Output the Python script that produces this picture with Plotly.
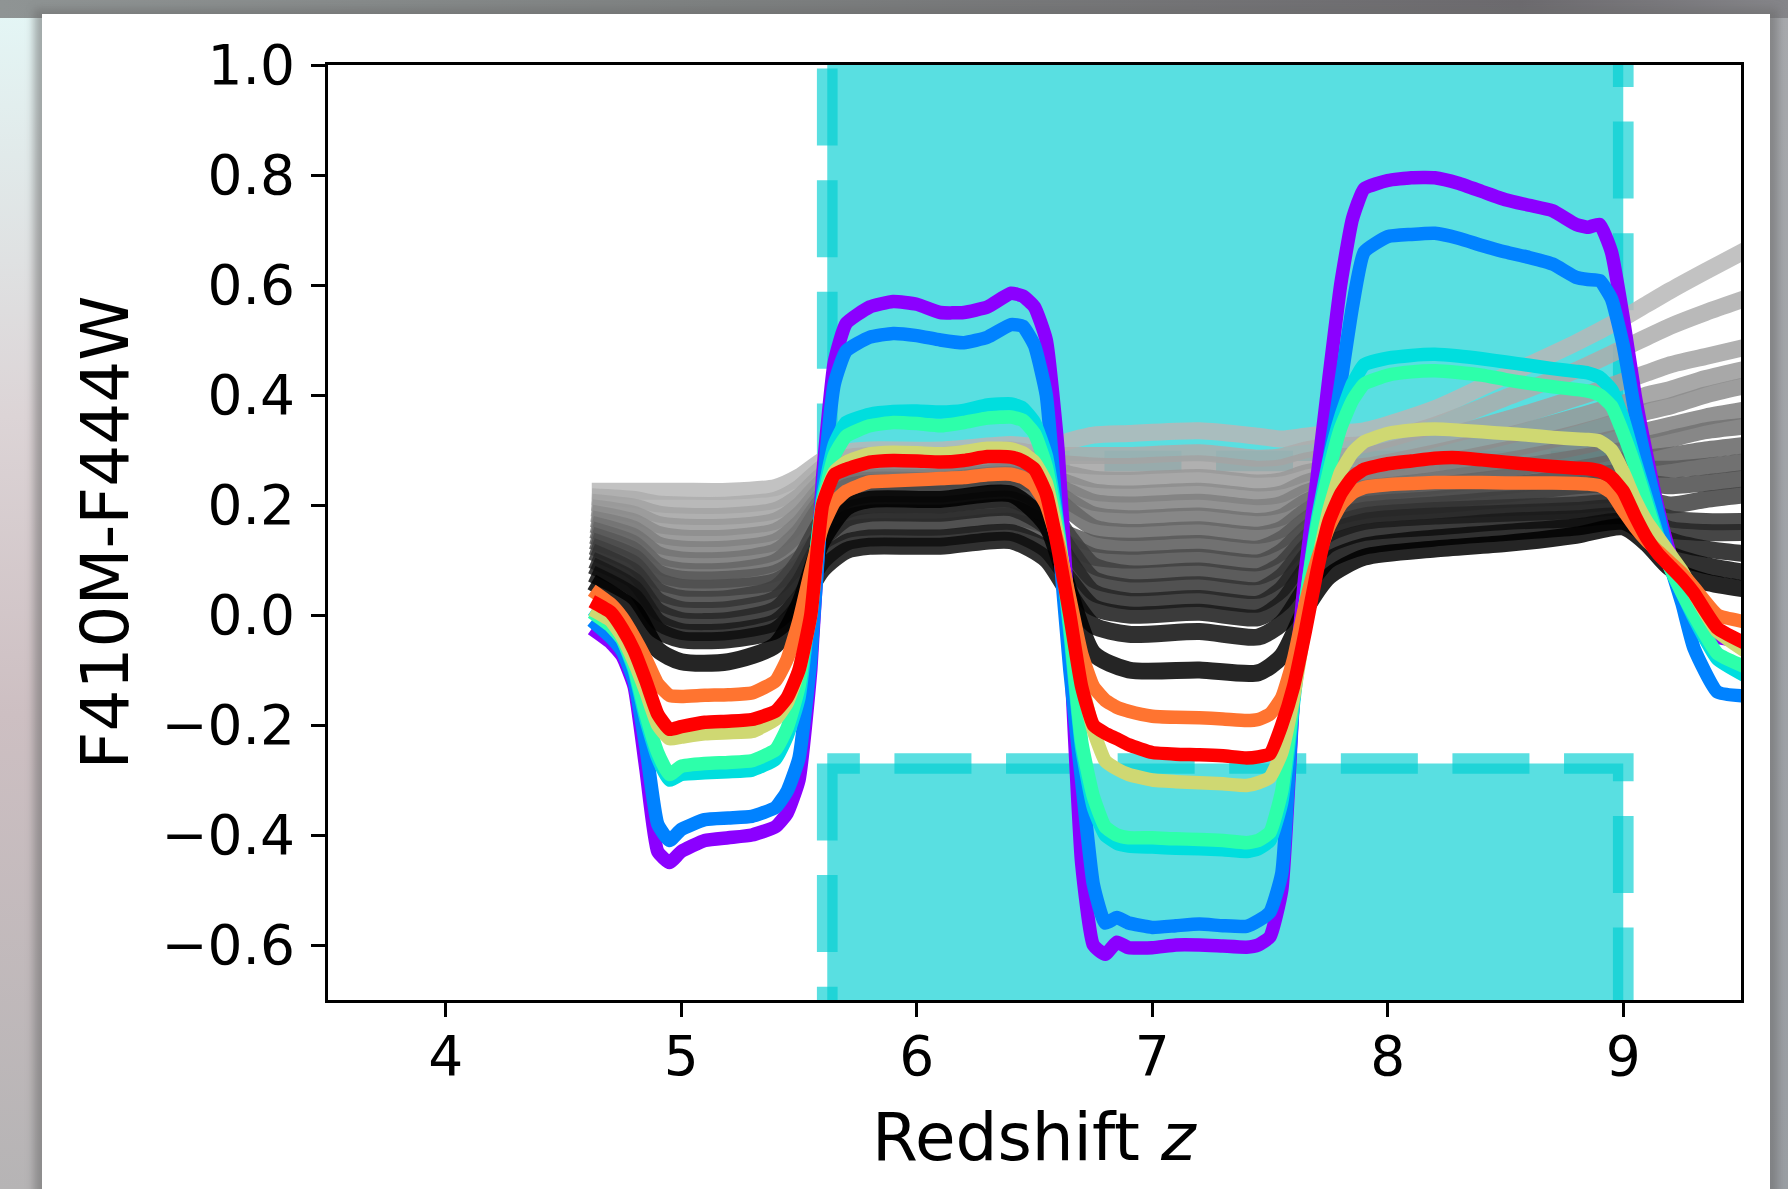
import base64
import plotly.graph_objects as go

# ---------------- data ----------------
# redshift grid for the coloured tracks
Z = [4.62, 4.7, 4.75, 4.8, 4.85, 4.9, 4.95, 5.0, 5.1, 5.2, 5.3, 5.4, 5.45, 5.5, 5.55, 5.6, 5.65, 5.7,
     5.8, 5.9, 6.0, 6.1, 6.2, 6.3, 6.4, 6.45, 6.5, 6.55, 6.6, 6.65, 6.7, 6.75, 6.8, 6.85, 6.9, 7.0,
     7.1, 7.2, 7.3, 7.4, 7.45, 7.5, 7.55, 7.6, 7.65, 7.7, 7.75, 7.8, 7.85, 7.9, 8.0, 8.1, 8.2, 8.3,
     8.4, 8.5, 8.6, 8.7, 8.8, 8.85, 8.9, 8.95, 9.0, 9.05, 9.1, 9.15, 9.2, 9.25, 9.3, 9.4, 9.55]

PURPLE = [-0.025, -0.05, -0.075, -0.13, -0.28, -0.43, -0.45, -0.43, -0.41, -0.405, -0.40, -0.385, -0.36, -0.30,
          -0.10, 0.25, 0.46, 0.53, 0.56, 0.57, 0.565, 0.55, 0.55, 0.56, 0.585, 0.58, 0.56, 0.50, 0.30, -0.05,
          -0.45, -0.60, -0.617, -0.595, -0.605, -0.605, -0.60, -0.60, -0.602, -0.604, -0.60, -0.585, -0.50,
          -0.15, 0.08, 0.25, 0.43, 0.60, 0.72, 0.775, 0.79, 0.795, 0.795, 0.785, 0.77, 0.755, 0.745, 0.735,
          0.71, 0.705, 0.71, 0.66, 0.54, 0.40, 0.29, 0.19, 0.11, 0.05, 0.0, -0.04, -0.05]
BLUE = [-0.01, -0.04, -0.066, -0.12, -0.24, -0.38, -0.41, -0.39, -0.372, -0.369, -0.366, -0.35, -0.32, -0.26,
        -0.08, 0.22, 0.42, 0.48, 0.505, 0.512, 0.508, 0.50, 0.495, 0.505, 0.528, 0.525, 0.49, 0.40, 0.15, -0.10,
        -0.30, -0.49, -0.56, -0.55, -0.56, -0.568, -0.565, -0.562, -0.565, -0.566, -0.556, -0.54, -0.47,
        -0.15, 0.02, 0.14, 0.28, 0.42, 0.56, 0.66, 0.688, 0.692, 0.694, 0.685, 0.672, 0.66, 0.65, 0.638,
        0.614, 0.61, 0.608, 0.575, 0.49, 0.37, 0.27, 0.18, 0.09, 0.02, -0.06, -0.14, -0.148]
CYAN = [0.01, -0.015, -0.045, -0.10, -0.19, -0.26, -0.30, -0.29, -0.287, -0.285, -0.282, -0.262, -0.22, -0.15,
        0.03, 0.21, 0.31, 0.35, 0.365, 0.37, 0.371, 0.369, 0.372, 0.382, 0.384, 0.376, 0.35, 0.29, 0.16, -0.03,
        -0.24, -0.35, -0.40, -0.415, -0.42, -0.422, -0.424, -0.425, -0.427, -0.43, -0.425, -0.41, -0.34,
        -0.16, 0.02, 0.17, 0.28, 0.36, 0.42, 0.455, 0.467, 0.472, 0.474, 0.471, 0.466, 0.46, 0.454, 0.448,
        0.443, 0.44, 0.432, 0.41, 0.355, 0.28, 0.21, 0.14, 0.085, 0.04, -0.005, -0.08, -0.118]
GREEN = [0.005, -0.02, -0.045, -0.095, -0.18, -0.25, -0.29, -0.275, -0.27, -0.268, -0.265, -0.245, -0.205,
         -0.13, 0.04, 0.20, 0.29, 0.325, 0.344, 0.35, 0.348, 0.344, 0.35, 0.358, 0.36, 0.354, 0.33, 0.27,
         0.15, -0.02, -0.23, -0.33, -0.385, -0.40, -0.405, -0.405, -0.407, -0.408, -0.41, -0.414, -0.41,
         -0.395, -0.32, -0.15, 0.02, 0.16, 0.26, 0.34, 0.39, 0.42, 0.436, 0.442, 0.444, 0.441, 0.436, 0.428,
         0.421, 0.415, 0.41, 0.407, 0.40, 0.38, 0.33, 0.27, 0.20, 0.135, 0.085, 0.04, 0.0, -0.07, -0.10]
YELLOW = [0.01, -0.01, -0.04, -0.085, -0.14, -0.20, -0.225, -0.222, -0.216, -0.214, -0.212, -0.19, -0.16,
          -0.10, 0.0, 0.20, 0.26, 0.278, 0.293, 0.296, 0.295, 0.293, 0.297, 0.303, 0.302, 0.295, 0.278, 0.24,
          0.14, 0.02, -0.12, -0.21, -0.265, -0.28, -0.29, -0.30, -0.303, -0.305, -0.307, -0.31, -0.305,
          -0.295, -0.25, -0.15, -0.02, 0.09, 0.19, 0.26, 0.295, 0.315, 0.33, 0.336, 0.338, 0.336, 0.333,
          0.33, 0.327, 0.323, 0.32, 0.319, 0.316, 0.30, 0.26, 0.21, 0.17, 0.14, 0.11, 0.08, 0.04, -0.03, -0.075]
ORANGE = [0.045, 0.02, -0.005, -0.04, -0.08, -0.125, -0.146, -0.148, -0.146, -0.145, -0.142, -0.12, -0.08,
          -0.01, 0.08, 0.16, 0.205, 0.225, 0.242, 0.244, 0.246, 0.248, 0.25, 0.255, 0.256, 0.25, 0.235, 0.20,
          0.13, 0.03, -0.07, -0.13, -0.155, -0.168, -0.175, -0.184, -0.186, -0.187, -0.189, -0.192, -0.19,
          -0.18, -0.15, -0.08, 0.02, 0.10, 0.16, 0.20, 0.222, 0.232, 0.237, 0.239, 0.241, 0.241, 0.241, 0.24,
          0.24, 0.24, 0.239, 0.238, 0.235, 0.222, 0.19, 0.16, 0.135, 0.115, 0.095, 0.075, 0.05, 0.0, -0.015]
RED = [0.025, 0.005, -0.025, -0.065, -0.12, -0.18, -0.208, -0.203, -0.195, -0.193, -0.19, -0.175, -0.15,
       -0.10, 0.0, 0.20, 0.255, 0.265, 0.278, 0.281, 0.28, 0.278, 0.281, 0.288, 0.287, 0.28, 0.265, 0.22,
       0.12, 0.0, -0.13, -0.20, -0.215, -0.225, -0.236, -0.25, -0.253, -0.254, -0.256, -0.26, -0.258, -0.252,
       -0.20, -0.13, -0.03, 0.08, 0.17, 0.22, 0.25, 0.265, 0.275, 0.28, 0.285, 0.286, 0.282, 0.278, 0.274,
       0.27, 0.267, 0.266, 0.262, 0.25, 0.225, 0.18, 0.14, 0.11, 0.088, 0.066, 0.04, -0.024, -0.058]

COLOURED = [
    ("#8b00ff", PURPLE),
    ("#0082ff", BLUE),
    ("#00dede", CYAN),
    ("#2dffaa", GREEN),
    ("#cfd872", YELLOW),
    ("#ff7430", ORANGE),
    ("#ff0000", RED),
]

# redshift knots for the grey tracks
ZG = [4.62, 4.8, 4.9, 5.0, 5.2, 5.4, 5.5, 5.6, 5.7, 5.8, 6.1, 6.4, 6.55, 6.65, 6.75, 6.9, 7.2, 7.45,
      7.55, 7.65, 7.75, 7.9, 8.2, 8.5, 8.8, 9.0, 9.1, 9.2, 9.35, 9.55]

GREY_LEVELS = [0.72, 0.68, 0.64, 0.60, 0.55, 0.50, 0.45, 0.40, 0.35, 0.30, 0.25, 0.20, 0.15, 0.10, 0.05, 0.0]

GREY_TRACKS = [
    [0.225, 0.225, 0.225, 0.225, 0.225, 0.232, 0.251, 0.281, 0.296, 0.30, 0.30, 0.31, 0.305, 0.317, 0.327,
     0.33, 0.335, 0.325, 0.32, 0.325, 0.33, 0.335, 0.375, 0.435, 0.495, 0.54, 0.565, 0.59, 0.625, 0.67],
    [0.215, 0.21, 0.202, 0.20, 0.20, 0.209, 0.231, 0.268, 0.286, 0.29, 0.29, 0.30, 0.29, 0.29, 0.29,
     0.29, 0.295, 0.285, 0.288, 0.30, 0.307, 0.31, 0.345, 0.395, 0.445, 0.485, 0.505, 0.525, 0.55, 0.58],
    [0.205, 0.196, 0.184, 0.18, 0.18, 0.19, 0.215, 0.255, 0.275, 0.28, 0.28, 0.29, 0.278, 0.274, 0.271,
     0.27, 0.275, 0.265, 0.268, 0.28, 0.287, 0.29, 0.32, 0.355, 0.395, 0.425, 0.44, 0.455, 0.47, 0.49],
    [0.195, 0.183, 0.165, 0.16, 0.16, 0.171, 0.199, 0.243, 0.265, 0.27, 0.27, 0.28, 0.266, 0.256, 0.247,
     0.245, 0.25, 0.24, 0.244, 0.258, 0.266, 0.27, 0.295, 0.325, 0.36, 0.385, 0.40, 0.41, 0.43, 0.45],
    [0.185, 0.169, 0.147, 0.14, 0.14, 0.152, 0.182, 0.23, 0.254, 0.26, 0.26, 0.27, 0.254, 0.238, 0.224,
     0.22, 0.225, 0.215, 0.22, 0.24, 0.25, 0.255, 0.275, 0.30, 0.33, 0.355, 0.37, 0.38, 0.40, 0.42],
    [0.175, 0.156, 0.128, 0.12, 0.12, 0.133, 0.166, 0.218, 0.244, 0.25, 0.25, 0.26, 0.243, 0.223, 0.205,
     0.20, 0.205, 0.195, 0.201, 0.222, 0.234, 0.24, 0.26, 0.28, 0.305, 0.325, 0.335, 0.345, 0.36, 0.375],
    [0.165, 0.142, 0.11, 0.10, 0.10, 0.115, 0.151, 0.209, 0.238, 0.245, 0.245, 0.255, 0.235, 0.206, 0.182,
     0.175, 0.18, 0.17, 0.178, 0.205, 0.222, 0.23, 0.245, 0.265, 0.285, 0.30, 0.31, 0.32, 0.335, 0.345],
    [0.155, 0.129, 0.091, 0.08, 0.08, 0.096, 0.136, 0.20, 0.232, 0.24, 0.24, 0.25, 0.227, 0.19, 0.159,
     0.15, 0.155, 0.145, 0.156, 0.188, 0.21, 0.22, 0.235, 0.25, 0.265, 0.28, 0.285, 0.29, 0.30, 0.31],
    [0.145, 0.117, 0.077, 0.065, 0.065, 0.076, 0.102, 0.144, 0.165, 0.17, 0.17, 0.18, 0.163, 0.145, 0.13,
     0.125, 0.13, 0.12, 0.138, 0.172, 0.197, 0.21, 0.22, 0.235, 0.25, 0.26, 0.265, 0.265, 0.27, 0.28],
    [0.135, 0.105, 0.063, 0.05, 0.05, 0.061, 0.089, 0.133, 0.155, 0.16, 0.16, 0.17, 0.151, 0.127, 0.106,
     0.10, 0.105, 0.095, 0.115, 0.155, 0.185, 0.20, 0.21, 0.22, 0.235, 0.24, 0.24, 0.235, 0.24, 0.25],
    [0.125, 0.092, 0.044, 0.03, 0.03, 0.049, 0.097, 0.173, 0.21, 0.22, 0.22, 0.23, 0.198, 0.14, 0.09,
     0.075, 0.08, 0.07, 0.092, 0.138, 0.173, 0.19, 0.20, 0.21, 0.215, 0.22, 0.21, 0.20, 0.21, 0.22],
    [0.115, 0.078, 0.026, 0.01, 0.01, 0.029, 0.077, 0.153, 0.19, 0.20, 0.20, 0.21, 0.178, 0.118, 0.065,
     0.05, 0.055, 0.045, 0.07, 0.122, 0.16, 0.18, 0.19, 0.195, 0.20, 0.205, 0.19, 0.175, 0.17, 0.17],
    [0.10, 0.062, 0.007, -0.01, -0.01, 0.01, 0.058, 0.136, 0.175, 0.185, 0.185, 0.195, 0.161, 0.097, 0.041,
     0.025, 0.03, 0.02, 0.047, 0.105, 0.148, 0.17, 0.18, 0.185, 0.19, 0.195, 0.175, 0.155, 0.15, 0.15],
    [0.09, 0.048, -0.012, -0.03, -0.03, -0.013, 0.03, 0.098, 0.132, 0.14, 0.14, 0.15, 0.119, 0.063, 0.014,
     0.0, 0.005, -0.005, 0.022, 0.082, 0.128, 0.15, 0.16, 0.17, 0.175, 0.18, 0.16, 0.135, 0.12, 0.11],
    [0.075, 0.033, -0.027, -0.045, -0.045, -0.028, 0.015, 0.083, 0.117, 0.125, 0.125, 0.135, 0.101, 0.037,
     -0.019, -0.035, -0.03, -0.04, -0.015, 0.048, 0.10, 0.125, 0.14, 0.15, 0.16, 0.17, 0.145, 0.11, 0.09, 0.075],
    [0.06, 0.009, -0.063, -0.085, -0.085, -0.055, 0.018, 0.136, 0.195, 0.21, 0.21, 0.22, 0.164, 0.04, -0.07,
     -0.10, -0.10, -0.105, -0.075, 0.01, 0.07, 0.105, 0.12, 0.13, 0.145, 0.16, 0.13, 0.085, 0.06, 0.045],
]

# selection windows in redshift / colour
WINDOW_Z = [5.62, 9.0]
UPPER_CUT, UPPER_TOP = 0.28, 1.1
LOWER_CUT, LOWER_BOTTOM = -0.27, -0.78

X_TICKS = [4, 5, 6, 7, 8, 9]
Y_TICKS = [-0.6, -0.4, -0.2, 0.0, 0.2, 0.4, 0.6, 0.8, 1.0]
Y_TICK_TEXT = ["\u22120.6", "\u22120.4", "\u22120.2", "0.0", "0.2", "0.4", "0.6", "0.8", "1.0"]

# ---------------- figure ----------------
W, H = 1788, 1189
ML, MR, MT, MB = 328, 47, 65, 189
PW, PH = W - ML - MR, H - MT - MB

FONT = "DejaVu Sans"
TURQ_FILL = "rgba(0,206,209,0.65)"
TURQ_EDGE = "rgba(0,206,209,0.65)"

fig = go.Figure()

z0, z1 = WINDOW_Z
# upper window: fill, then dashed outline starting at its top-right corner
up_x = [z1, z1, z0, z0, z1]
up_y = [UPPER_TOP, UPPER_CUT, UPPER_CUT, UPPER_TOP, UPPER_TOP]
# lower window: outline starting at its top-left corner, running down first
lo_x = [z0, z0, z1, z1, z0]
lo_y = [LOWER_CUT, LOWER_BOTTOM, LOWER_BOTTOM, LOWER_CUT, LOWER_CUT]
for xs, ys in ((up_x, up_y), (lo_x, lo_y)):
    fig.add_trace(go.Scatter(x=xs, y=ys, mode="lines", fill="toself", fillcolor=TURQ_FILL,
                             line=dict(width=0), hoverinfo="skip", showlegend=False))
for xs, ys in ((up_x, up_y), (lo_x, lo_y)):
    fig.add_trace(go.Scatter(x=xs, y=ys, mode="lines",
                             line=dict(color=TURQ_EDGE, width=20.7, dash="77px,34.6px"),
                             hoverinfo="skip", showlegend=False))

# grey model tracks
for level, track in zip(GREY_LEVELS, GREY_TRACKS):
    g = int(round(255 * level))
    fig.add_trace(go.Scatter(x=ZG, y=track, mode="lines",
                             line=dict(color=f"rgb({g},{g},{g})", width=17, shape="spline", smoothing=0.7),
                             opacity=0.85, hoverinfo="skip", showlegend=False))

# coloured tracks
for colour, vals in COLOURED:
    fig.add_trace(go.Scatter(x=Z, y=vals, mode="lines",
                             line=dict(color=colour, width=13.5, shape="spline", smoothing=0.45),
                             hoverinfo="skip", showlegend=False))

# page background: white card on a soft grey surround
svg = f"""<svg xmlns="http://www.w3.org/2000/svg" width="{W}" height="{H}" viewBox="0 0 {W} {H}">
<defs>
<linearGradient id="lft" x1="0" y1="0" x2="0" y2="1">
<stop offset="0" stop-color="#e4f7f6"/><stop offset="0.35" stop-color="#dcd4d6"/>
<stop offset="0.6" stop-color="#cdbfc2"/><stop offset="1" stop-color="#b6b4b5"/></linearGradient>
<linearGradient id="top" x1="0" y1="0" x2="1" y2="0">
<stop offset="0" stop-color="#8f9494"/><stop offset="0.4" stop-color="#7d8080"/>
<stop offset="0.85" stop-color="#6c6a6e"/><stop offset="1" stop-color="#858589"/></linearGradient>
<linearGradient id="rgt" x1="0" y1="0" x2="0" y2="1">
<stop offset="0" stop-color="#a7a9ad"/><stop offset="1" stop-color="#9a9ea3"/></linearGradient>
<filter id="soft" x="-5%" y="-5%" width="110%" height="110%"><feGaussianBlur stdDeviation="4"/></filter>
</defs>
<rect width="{W}" height="{H}" fill="url(#lft)"/>
<rect x="1760" width="28" height="{H}" fill="url(#rgt)"/>
<rect width="{W}" height="18" fill="url(#top)"/>
<rect x="34" y="9" width="1744" height="{H}" fill="#6a6a6a" opacity="0.55" filter="url(#soft)"/>
<rect x="42" y="14" width="1728" height="{H}" fill="#ffffff"/>
</svg>"""
bg_src = "data:image/svg+xml;base64," + base64.b64encode(svg.encode()).decode()

fig.update_layout(
    width=W, height=H,
    margin=dict(l=ML, r=MR, t=MT, b=MB, pad=0),
    paper_bgcolor="#b8b8b8", plot_bgcolor="white",
    font=dict(family=FONT, size=55, color="black"),
    showlegend=False,
    images=[dict(source=bg_src, xref="paper", yref="paper",
                 x=-ML / PW, y=(PH + MT) / PH, sizex=W / PW, sizey=H / PH,
                 xanchor="left", yanchor="top", sizing="stretch", layer="below")],
    xaxis=dict(range=[3.5, 9.5], tickvals=X_TICKS, ticks="outside", ticklen=14, tickwidth=3,
               tickcolor="black", showline=True, linewidth=3, linecolor="black", mirror=True,
               showgrid=False, zeroline=False, ticklabelstandoff=-8,
               tickfont=dict(family=FONT, size=55, color="black")),
    yaxis=dict(range=[-0.7, 1.0], tickvals=Y_TICKS, ticktext=Y_TICK_TEXT, ticks="outside",
               ticklen=14, tickwidth=3, tickcolor="black", showline=True, linewidth=3,
               linecolor="black", mirror=True, showgrid=False, zeroline=False,
               ticklabelstandoff=5, tickfont=dict(family=FONT, size=55, color="black")),
    annotations=[
        dict(text="Redshift <i>z</i>", xref="paper", yref="paper", x=0.5, y=(1000 - 1137) / PH,
             xanchor="center", yanchor="middle", showarrow=False,
             font=dict(family=FONT, size=66, color="black")),
        dict(text="F410M-F444W", xref="paper", yref="paper", x=(105 - ML) / PW, y=0.5,
             xanchor="center", yanchor="middle", textangle=-90, showarrow=False,
             font=dict(family=FONT, size=66, color="black")),
    ],
)

fig.write_html("out.html")
